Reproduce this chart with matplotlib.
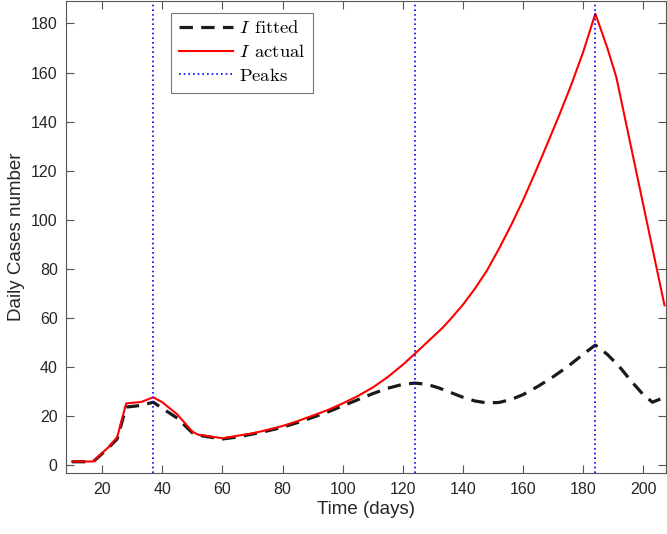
import matplotlib
matplotlib.use("Agg")
import matplotlib.pyplot as plt

# ---- data ----
t_actual = [10, 17, 20, 22, 25, 28, 33, 37, 40, 45, 50, 52, 60, 65, 70, 75, 80, 85, 90, 95,
            100, 105, 110, 115, 120, 124, 127, 130, 133, 136, 140, 144, 148, 152, 156, 160,
            164, 168, 172, 176, 180, 184, 188, 191, 207]
i_actual = [1.3, 1.3, 4.8, 7.0, 11.2, 25.0, 25.6, 27.5, 25.5, 20.5, 13.5, 12.2, 10.8, 11.8,
            12.8, 14.2, 15.8, 17.8, 20.0, 22.3, 25.0, 28.0, 31.5, 35.8, 40.8, 45.3, 48.7,
            52.2, 55.6, 59.6, 65.3, 71.9, 79.3, 88.2, 97.7, 108.0, 119.2, 130.8, 142.6,
            155.0, 168.5, 184.0, 170.0, 158.0, 65.0]

t_fit = [10, 17, 20, 22, 25, 28, 33, 37, 40, 45, 50, 52, 60, 65, 70, 75, 80, 85, 90, 95, 100,
         105, 110, 115, 120, 124, 128, 132, 136, 140, 144, 148, 152, 156, 160, 165, 170, 175,
         180, 184, 188, 192, 196, 200, 203, 207]
i_fit = [1.2, 1.2, 4.5, 6.8, 10.5, 23.5, 24.2, 25.5, 23.0, 19.0, 13.0, 12.0, 10.5, 11.3, 12.5,
         13.8, 15.3, 17.2, 19.3, 21.5, 24.0, 26.5, 29.0, 31.2, 32.8, 33.3, 32.8, 31.3, 29.4,
         27.5, 26.0, 25.2, 25.4, 26.6, 28.6, 32.0, 35.9, 40.2, 45.1, 48.8, 45.0, 40.0, 34.0,
         28.5, 25.5, 27.5]

peaks = [37, 124, 184]

xticks = [20, 40, 60, 80, 100, 120, 140, 160, 180, 200]
yticks = [0, 20, 40, 60, 80, 100, 120, 140, 160, 180]

# ---- style ----
plt.rcParams['font.family'] = ['Liberation Sans', 'DejaVu Sans']
plt.rcParams['mathtext.fontset'] = 'cm'

fig = plt.figure(figsize=(6.67, 5.34), dpi=100)
ax = fig.add_axes([0.099, 0.1137, 0.8995, 0.885])

ax.plot(t_fit, i_fit, color='#1a1a1a', lw=2.3, ls=(0, (4.2, 2.6)), label=r'$I\;\,\mathrm{fitted}$')
ax.plot(t_actual, i_actual, color='#ff0000', lw=1.5, label=r'$I\;\,\mathrm{actual}$')
for k, p in enumerate(peaks):
    ax.axvline(p, color='#0000ff', lw=1.2, ls=(0, (1, 1.8)),
               label=r'$\mathrm{Peaks}$' if k == 0 else None)

ax.set_xlim(8, 207.5)
ax.set_ylim(-3.5, 189.3)
ax.set_xticks(xticks)
ax.set_yticks(yticks)

ax.tick_params(direction='in', length=6, width=0.8, colors='#555555', labelcolor='#262626',
               labelsize=11.5, top=True, right=True, pad=6)
for s in ax.spines.values():
    s.set_color('#555555')
    s.set_linewidth(0.8)

ax.set_xlabel('Time (days)', fontsize=13.5, color='#262626', labelpad=3)
ax.set_ylabel('Daily Cases number', fontsize=13.5, color='#262626', labelpad=4)

leg = ax.legend(loc='upper left', bbox_to_anchor=(0.1755, 0.975), fontsize=13.4,
                frameon=True, fancybox=False, edgecolor='#555555', handlelength=2.9,
                handletextpad=0.32, borderpad=0.42, labelspacing=0.36, borderaxespad=0)
leg.get_frame().set_linewidth(0.8)

fig.savefig('out.png', dpi=100)
